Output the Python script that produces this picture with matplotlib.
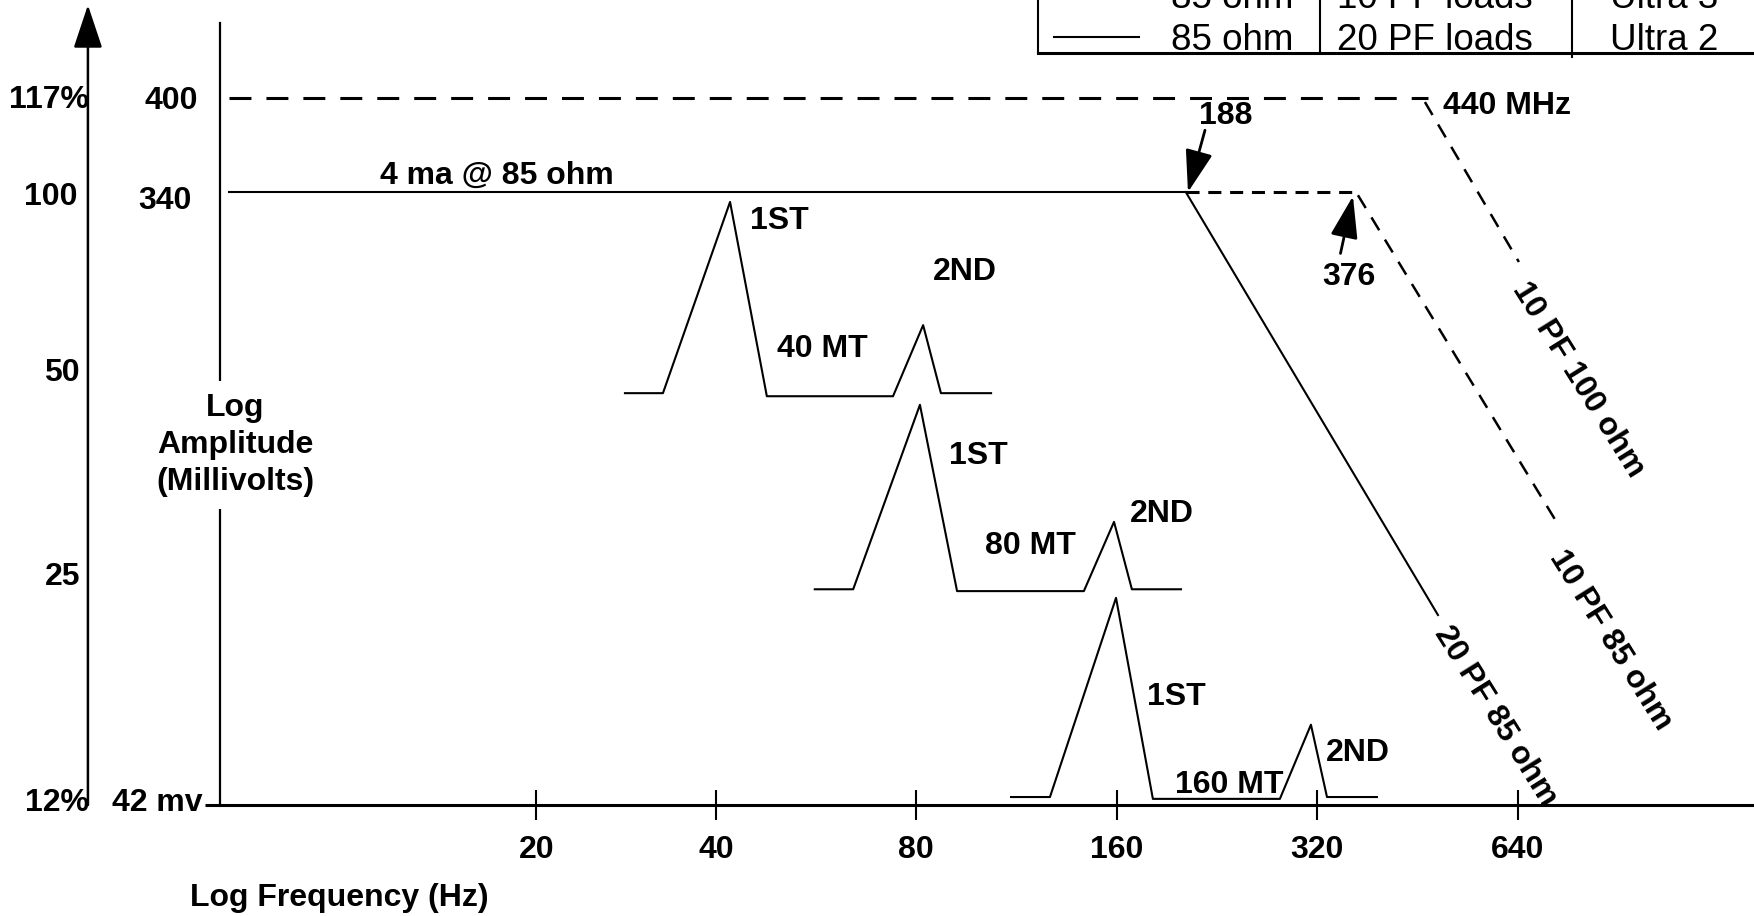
import matplotlib
matplotlib.use("Agg")
import matplotlib.pyplot as plt
from matplotlib.lines import Line2D
from matplotlib.ticker import NullLocator

plt.rcParams['font.family'] = ['Liberation Sans', 'DejaVu Sans']
plt.rcParams['lines.scale_dashes'] = False

# ---------------- data ----------------
# x: frequency (MHz) on a log2 axis; y: schematic amplitude level
# (0 = 42 mV / 12 % baseline, 100 = 340 mV / 100 %; the original figure is not to scale)
tick_freqs = [21.5, 40, 80, 160, 320, 640]
tick_labels = ['20', '40', '80', '160', '320', '640']

pct_labels = ['117%', '100', '50', '25', '12%']
pct_levels = [115.0, 99.2, 70.5, 37.2, 0.3]
mv_labels = ['400', '340', '42 mv']
mv_levels = [114.8, 98.5, 0.3]

# Ultra 3 envelope, 10 PF 100 ohm (dashed)
u3_flat_f, u3_flat_lvl = [7.42, 469.6], [115.3, 115.3]
u3_roll_f, u3_roll_lvl = [464.6, 643.0], [114.7, 88.6]
# Ultra 2 envelope, 20 PF 85 ohm (solid)
u2_flat_f, u2_flat_lvl = [7.42, 203.2], [100.0, 100.0]
u2_roll_f, u2_roll_lvl = [203.2, 486.0], [100.0, 31.0]
# 10 PF 85 ohm extension (dashed)
ext_flat_f, ext_flat_lvl = [203.2, 363.4], [100.0, 100.0]
ext_roll_f, ext_roll_lvl = [368.5, 736.0], [99.5, 45.8]

# harmonic spectra (1st and 2nd harmonic) for 40, 80 and 160 MT
h40_f = [29.2, 33.3, 42.0, 47.7, 73.8, 81.9, 87.1, 103.6]
h40_lvl = [67.2, 67.2, 98.4, 66.7, 66.7, 78.3, 67.2, 67.2]
h80_f = [56.3, 64.3, 81.0, 92.1, 142.8, 158.5, 168.6, 199.8]
h80_lvl = [35.2, 35.2, 65.3, 34.9, 34.9, 46.2, 35.2, 35.2]
h160_f = [111.0, 127.0, 159.6, 181.3, 281.3, 313.2, 331.1, 393.5]
h160_lvl = [1.3, 1.3, 33.8, 1.0, 1.0, 13.1, 1.3, 1.3]

labels_txt = ['4 ma @ 85 ohm', '1ST', '2ND', '40 MT', '1ST', '2ND', '80 MT',
              '1ST', '2ND', '160 MT', '188', '376', '440 MHz']
labels_f = [12.5, 45.0, 84.7, 49.4, 89.6, 167.5, 101.4, 177.6, 329.9, 195.7,
            212.6, 325.4, 494.5]
labels_lvl = [102.6, 95.3, 87.0, 74.4, 56.9, 47.5, 42.3, 17.6, 8.5, 3.3,
              112.4, 86.1, 114.0]

rot_txt = ['20 PF 85 ohm', '10 PF 85 ohm', '10 PF 100 ohm']
rot_f = [592.0, 884.0, 788.8]
rot_lvl = [14.5, 26.9, 69.3]

arrow_tail_f, arrow_tail_lvl = [217.1, 346.9], [110.1, 90.0]
arrow_tip_f, arrow_tip_lvl = [204.7, 362.2], [100.0, 99.35]

legend_styles = ['--', '-']
legend_impedance = ['85 ohm', '85 ohm']
legend_loads = ['10 PF loads', '20 PF loads']
legend_names = ['Ultra 3', 'Ultra 2']

# ---------------- figure ----------------
W, H = 1754, 916
fig = plt.figure(figsize=(W / 100, H / 100), dpi=100)
ax = fig.add_axes([220 / W, (H - 805) / H, 1534 / W, 782 / H])
ax.set_xscale('log', base=2)
ax.set_xlim(7.196, 1450)
ax.set_ylim(0, 127.6)

for s in ('top', 'right'):
    ax.spines[s].set_visible(False)
ax.spines['left'].set_linewidth(1.6)
ax.spines['bottom'].set_linewidth(2.2)

FS = 23
ax.xaxis.set_minor_locator(NullLocator())
ax.set_xticks(tick_freqs)
ax.set_xticklabels(tick_labels, fontsize=FS, fontweight='bold')
ax.tick_params(axis='x', direction='inout', length=21.6, width=1.5, pad=11)
ax.set_yticks([])

BOLD = dict(fontsize=FS, fontweight='bold', color='black')
LW = 1.5

# baseline stub left of the inner axis
ax.plot([6.83, 7.196], [0, 0], color='black', lw=2.2, clip_on=False,
        solid_capstyle='butt')

# envelopes
ax.plot(u3_flat_f, u3_flat_lvl, color='black', lw=2.2, dashes=(15.8, 10.8), clip_on=False)
ax.plot(u3_roll_f, u3_roll_lvl, color='black', lw=1.8, dashes=(10.8, 7.9), clip_on=False)
ax.plot(u2_flat_f, u2_flat_lvl, color='black', lw=LW, clip_on=False)
ax.plot(u2_roll_f, u2_roll_lvl, color='black', lw=LW, clip_on=False)
ax.plot(ext_flat_f, ext_flat_lvl, color='black', lw=2.2, dashes=(9.4, 6.3), clip_on=False)
ax.plot(ext_roll_f, ext_roll_lvl, color='black', lw=1.8, dashes=(10.8, 7.9), clip_on=False)

# harmonic spectra
for fx, ly in ((h40_f, h40_lvl), (h80_f, h80_lvl), (h160_f, h160_lvl)):
    ax.plot(fx, ly, color='black', lw=LW, clip_on=False)

# labels
for t, fx, ly in zip(labels_txt, labels_f, labels_lvl):
    ax.text(fx, ly, t, ha='left', va='center', **BOLD)
for t, fx, ly in zip(rot_txt, rot_f, rot_lvl):
    ax.text(fx, ly, t, ha='center', va='center', rotation=-58,
            rotation_mode='anchor', **BOLD)

# 188 / 376 arrows
for tf, tl, pf, pl in zip(arrow_tail_f, arrow_tail_lvl, arrow_tip_f, arrow_tip_lvl):
    ax.annotate('', xy=(pf, pl), xytext=(tf, tl),
                arrowprops=dict(arrowstyle='-|>,head_length=2.6,head_width=0.85',
                                mutation_scale=10, lw=2, color='black',
                                shrinkA=0, shrinkB=0))

# amplitude labels (two columns)
ytr = ax.get_yaxis_transform()
pct_x = [-0.0854, -0.0926, -0.0913, -0.0913, -0.0854]
mv_x = [-0.0143, -0.0182, -0.0111]
for t, xx, ly in zip(pct_labels, pct_x, pct_levels):
    ax.text(xx, ly, t, transform=ytr, ha='right', va='center', clip_on=False, **BOLD)
for t, xx, ly in zip(mv_labels, mv_x, mv_levels):
    ax.text(xx, ly, t, transform=ytr, ha='right', va='center', clip_on=False, **BOLD)

# outer amplitude arrow
ax.annotate('', xy=(-0.0861, 1.023), xytext=(-0.0861, 0.0),
            xycoords='axes fraction', textcoords='axes fraction',
            arrowprops=dict(arrowstyle='-|>,head_length=2.7,head_width=0.9',
                            mutation_scale=10, lw=1.8, color='black',
                            shrinkA=0, shrinkB=0))

# axis titles
ax.text(0.0098, 0.4604, 'Log\nAmplitude\n(Millivolts)', transform=ax.transAxes,
        ha='center', va='center', multialignment='center', linespacing=1.32,
        bbox=dict(facecolor='white', edgecolor='none', pad=8), **BOLD)
ax.text(-0.0196, -0.1189, 'Log Frequency (Hz)', transform=ax.transAxes,
        ha='left', va='center', clip_on=False, **BOLD)

# ---------------- legend table (top right, partly cut off) ----------------
def fp(x, y):
    return x / W, 1 - y / H

def fline(x0, y0, x1, y1, lw=1.5, **kw):
    (a, b), (c, d) = fp(x0, y0), fp(x1, y1)
    fig.add_artist(Line2D([a, c], [b, d], transform=fig.transFigure,
                          color='black', lw=lw, **kw))

fline(1038, -5, 1038, 53)
fline(1320, -5, 1320, 53)
fline(1572, -5, 1572, 57)
fline(1038, 53, 1754, 53, lw=2.2)

row_y = [-1.5, 40]
for ry, st, imp, ld, nm in zip(row_y, legend_styles, legend_impedance,
                               legend_loads, legend_names):
    if st == '--':
        fline(1054, ry - 3, 1139, ry - 3, lw=1.5, dashes=(7, 5))
    else:
        fline(1054, ry - 3, 1139, ry - 3, lw=1.5)
    for t, x in ((imp, 1171), (ld, 1337), (nm, 1610)):
        fig.text(*fp(x, ry), t, ha='left', va='center', fontsize=26.5,
                 color='black')

fig.savefig('out.png', dpi=100)
